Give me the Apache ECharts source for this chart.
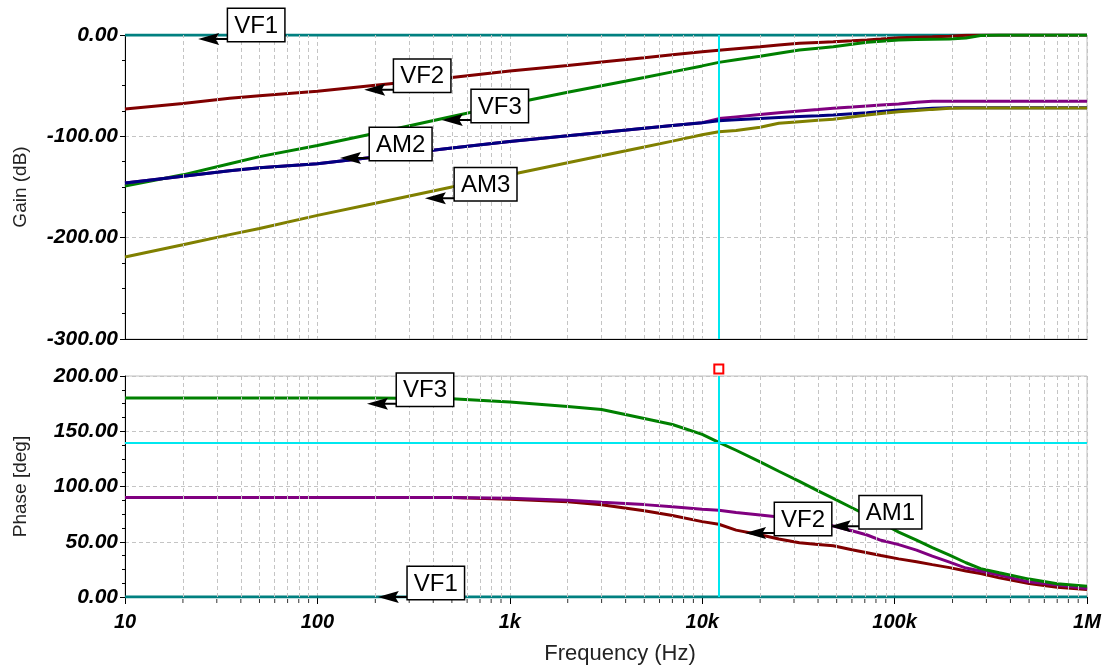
<!DOCTYPE html>
<html>
<head>
<meta charset="utf-8">
<script src="https://cdn.jsdelivr.net/npm/echarts@6/dist/echarts.min.js"></script>
<style>
html, body { margin: 0; padding: 0; background: #fff; }
#main { width: 1112px; height: 668px; }
</style>
</head>
<body>
<div id="main"></div>
<script>
// frequency points (Hz) shared by every trace
var freqs = [10, 20, 35, 50, 100, 200, 500, 1000, 2000, 3000, 5000, 7000, 10000, 12200, 15000, 20000, 25000,
    32000, 40000, 48000, 60000, 72000, 85000, 105000, 130000, 157000, 193000, 235000, 280000, 350000, 500000, 700000, 1000000];

// gain (dB)
var gainVF1 = [0, 0, 0, 0, 0, 0, 0, 0, 0, 0, 0, 0, 0, 0, 0, 0, 0, 0, 0, 0, 0, 0, 0, 0, 0, 0, 0, 0, 0, 0, 0, 0, 0];
var gainVF2 = [-73, -67.5, -62.5, -60, -55.5, -49.5, -42, -35.5, -30, -26.7, -22.5, -19.6, -16.5, -15, -13.5, -11.5, -9.9,
    -8.2, -7.3, -6.6, -5.7, -4.9, -3.9, -2.6, -2.1, -1.7, -1.2, -0.3, 0, 0, 0, 0, 0];
var gainVF3 = [-149, -138, -127, -120, -109, -97, -80.5, -68, -56.5, -50.1, -42, -36.4, -30.5, -27, -24.5, -21, -18,
    -14.8, -13, -11.5, -9.1, -7.2, -6.2, -4.9, -4.5, -4.2, -3.9, -3, -0.5, 0, 0, 0, 0];
var gainAM1 = [-146, -139.5, -134, -131, -127, -120.5, -111.5, -105, -99.5, -96.2, -92, -89.3, -86.5, -82.5, -80.8, -78.5, -76.8,
    -75, -73.6, -72.4, -71.1, -70, -69.1, -68, -66.4, -65.3, -65.5, -65.5, -65.5, -65.5, -65.5, -65.5, -65.5];
var gainAM2 = [-146, -139.5, -134, -131, -127, -120.5, -111.5, -105, -99.5, -96.2, -92, -89.3, -86.5, -84.6, -83.7, -82.5, -81.5,
    -80.5, -79.7, -79, -77.7, -76.7, -75.5, -74, -73.2, -72.4, -71.8, -71.8, -71.8, -71.8, -71.8, -71.8, -71.8];
var gainAM3 = [-219, -207, -197, -191, -178, -166, -150, -138, -126, -119.2, -110.5, -104.7, -98.5, -95.4, -94.3, -91, -87.1,
    -85.5, -84.2, -83.2, -80.9, -79, -77.5, -75.7, -74.5, -73.4, -72.4, -72, -72, -72, -72, -72, -72];

// phase (deg)
var phaseVF1 = [0, 0, 0, 0, 0, 0, 0, 0, 0, 0, 0, 0, 0, 0, 0, 0, 0, 0, 0, 0, 0, 0, 0, 0, 0, 0, 0, 0, 0, 0, 0, 0, 0];
var phaseVF2 = [90, 90, 90, 90, 90, 90, 90, 88.5, 86.3, 83.5, 78.1, 73.7, 68.2, 65.8, 60.5, 56.4, 52.5,
    49.1, 47.6, 46.3, 42.8, 40.1, 37.5, 34.5, 31.9, 29.3, 26.6, 23.5, 21.2, 17.3, 12.2, 8.9, 6.7];
var phaseVF3 = [180, 180, 180, 180, 180, 180, 179.5, 176.5, 172.3, 169.7, 161.6, 156.1, 147.2, 140, 132.8, 122.3, 113.8,
    104.7, 96.1, 89.3, 80.8, 73.8, 67.4, 58.7, 51.4, 44.7, 37.8, 31, 25.7, 22, 16.2, 11.9, 9.7];
var phaseAM1 = [90, 90, 90, 90, 90, 90, 90, 89.3, 87.5, 85.7, 83.6, 81.7, 79.5, 78.5, 76.4, 74.3, 72.5,
    70.3, 67.7, 64.3, 59.9, 56.1, 51.3, 47.4, 42.4, 37, 31.5, 26.2, 23.6, 19.8, 13.7, 10.8, 7.6];

// callouts: name, frequency, value
var calloutsGain = [['VF1', 24, -4], ['VF2', 175, -54], ['VF3', 443, -84], ['AM2', 131, -121.4], ['AM3', 362, -161]];
var calloutsPhase = [['VF3', 181, 175], ['VF1', 206, 0], ['VF2', 16700, 58], ['AM1', 46000, 64]];

var cursorFreq = 12200;
var cursorPhase = 140;

var FONT = "'Liberation Sans', Arial, sans-serif";
var GRID_COLOR = '#c4c4c4';
var ARROW = 'path://M0,6 L21,0 L18,5 L30,5 L30,7 L18,7 L21,12 Z';

function zip(ys) {
    return freqs.map(function (f, i) { return [f, ys[i]]; });
}

function minorFreqs() {
    var list = [];
    for (var d = 10; d < 1000000; d *= 10) {
        for (var k = 2; k <= 9; k++) list.push(d * k);
    }
    return list;
}

function formatFreq(v) {
    if (v >= 1000000) return (v / 1000000) + 'M';
    if (v >= 1000) return (v / 1000) + 'k';
    return '' + v;
}

function calloutMark(list) {
    return {
        symbol: ARROW,
        symbolSize: [30, 12],
        symbolOffset: [15, 0],
        silent: true,
        itemStyle: { color: '#000' },
        label: {
            show: true,
            position: [30, -24],
            formatter: function (p) { return p.name; },
            color: '#000',
            fontSize: 24,
            lineHeight: 26,
            fontFamily: FONT,
            backgroundColor: '#fff',
            borderColor: '#000',
            borderWidth: 1.5,
            padding: [4, 6, 2, 6]
        },
        data: list.map(function (c) {
            return { name: c[0], coord: [c[1], c[2]] };
        })
    };
}

function trace(name, ys, color, idx, callouts) {
    var s = {
        name: name,
        type: 'line',
        xAxisIndex: idx,
        yAxisIndex: idx,
        data: zip(ys),
        showSymbol: false,
        symbol: 'none',
        z: 3,
        lineStyle: { color: color, width: 3 }
    };
    if (callouts) {
        var mine = callouts.filter(function (c) { return c[0] === name; });
        if (mine.length) s.markPoint = calloutMark(mine);
    }
    return s;
}

function gridHelper(idx) {
    var lines = minorFreqs().map(function (f) { return { xAxis: f }; });
    return {
        type: 'line',
        xAxisIndex: idx,
        yAxisIndex: idx,
        data: [],
        z: 1,
        silent: true,
        markLine: {
            symbol: ['none', 'none'],
            silent: true,
            label: { show: false },
            lineStyle: { color: GRID_COLOR, type: [4, 3], width: 1 },
            data: lines
        }
    };
}

function cursorHelper(idx, withPhase) {
    var lines = [{ xAxis: cursorFreq }];
    if (withPhase) lines.push({ yAxis: cursorPhase });
    var s = {
        type: 'line',
        xAxisIndex: idx,
        yAxisIndex: idx,
        data: [],
        z: 4,
        silent: true,
        markLine: {
            symbol: ['none', 'none'],
            silent: true,
            label: { show: false },
            lineStyle: { color: '#00e8f0', type: 'solid', width: 2 },
            data: lines
        }
    };
    if (withPhase) {
        s.markPoint = {
            symbol: 'rect',
            symbolSize: [9, 9],
            symbolOffset: [0, -7],
            silent: true,
            itemStyle: { color: '#fff', borderColor: '#f00', borderWidth: 2 },
            label: { show: false },
            data: [{ coord: [cursorFreq, 200] }]
        };
    }
    return s;
}

var myChart = echarts.init(document.getElementById('main'));

var yLabel = {
    formatter: function (v) { return v.toFixed(2); },
    fontSize: 21,
    fontStyle: 'italic',
    fontWeight: 'bold',
    color: '#000',
    margin: 7,
    fontFamily: FONT
};

function yAxis(idx, min, max, interval, name) {
    return {
        gridIndex: idx,
        type: 'value',
        min: min,
        max: max,
        interval: interval,
        axisLine: { show: true, lineStyle: { color: '#000', width: 1 } },
        axisTick: { show: true, length: 5, lineStyle: { color: '#000' } },
        minorTick: { show: true, splitNumber: 4, length: 3, lineStyle: { color: '#000' } },
        splitLine: { show: true, lineStyle: { color: GRID_COLOR, type: [4, 3] } },
        axisLabel: yLabel,
        name: name,
        nameLocation: 'middle',
        nameGap: 95,
        nameTextStyle: { fontSize: 19, color: '#222', fontFamily: FONT }
    };
}

function xAxis(idx, showLabels) {
    return {
        gridIndex: idx,
        type: 'log',
        logBase: 10,
        min: 10,
        max: 1000000,
        axisLine: { show: true, onZero: false, lineStyle: { color: '#000', width: 1 } },
        axisTick: { show: showLabels, length: 7, lineStyle: { color: '#000' } },
        splitLine: { show: true, lineStyle: { color: GRID_COLOR, type: [4, 3] } },
        axisLabel: {
            show: showLabels,
            formatter: formatFreq,
            fontSize: 20,
            fontStyle: 'italic',
            fontWeight: 'bold',
            color: '#000',
            margin: 15,
            fontFamily: FONT
        },
        name: showLabels ? 'Frequency (Hz)' : '',
        nameLocation: 'middle',
        nameGap: 46,
        nameTextStyle: { fontSize: 22, color: '#222', fontFamily: FONT, padding: [0, 0, 0, 28] }
    };
}

var minorTicks = {
    type: 'scatter',
    xAxisIndex: 1,
    yAxisIndex: 1,
    clip: false,
    silent: true,
    z: 2,
    symbol: 'rect',
    symbolSize: [1, 4],
    symbolOffset: [0, 4],
    itemStyle: { color: '#000' },
    data: minorFreqs().map(function (f) { return [f, 0]; })
};

var option = {
    animation: false,
    backgroundColor: '#fff',
    grid: [
        { left: 125, right: 25, top: 35, height: 304, show: true, borderColor: '#c0c0c0', borderWidth: 1 },
        { left: 125, right: 25, top: 376, height: 221, show: true, borderColor: '#c0c0c0', borderWidth: 1 }
    ],
    xAxis: [xAxis(0, false), xAxis(1, true)],
    yAxis: [yAxis(0, -300, 0, 100, 'Gain (dB)'), yAxis(1, 0, 200, 50, 'Phase [deg]')],
    series: [
        gridHelper(0),
        gridHelper(1),
        trace('VF1', gainVF1, '#008080', 0, calloutsGain),
        trace('VF2', gainVF2, '#800000', 0, calloutsGain),
        trace('VF3', gainVF3, '#008000', 0, calloutsGain),
        trace('AM1', gainAM1, '#800080', 0, calloutsGain),
        trace('AM2', gainAM2, '#000080', 0, calloutsGain),
        trace('AM3', gainAM3, '#808000', 0, calloutsGain),
        trace('VF1', phaseVF1, '#008080', 1, calloutsPhase),
        trace('VF2', phaseVF2, '#800000', 1, calloutsPhase),
        trace('AM1', phaseAM1, '#800080', 1, calloutsPhase),
        trace('VF3', phaseVF3, '#008000', 1, calloutsPhase),
        cursorHelper(0, false),
        cursorHelper(1, true),
        minorTicks
    ]
};

myChart.setOption(option);
</script>
</body>
</html>
